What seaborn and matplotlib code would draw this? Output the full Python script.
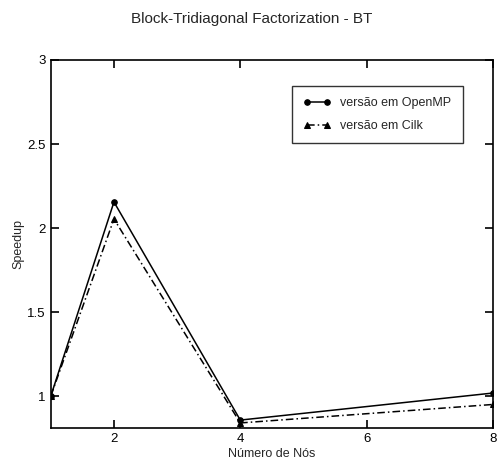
import matplotlib
matplotlib.use("Agg")
import matplotlib.pyplot as plt
import seaborn as sns
import pandas as pd

nodes = [1, 2, 4, 8]
openmp = [1.0, 2.155, 0.857, 1.018]
cilk = [1.0, 2.054, 0.84, 0.95]
series_names = ["versão em OpenMP", "versão em Cilk"]
title = "Block-Tridiagonal Factorization - BT"
xlabel = "Número de Nós"
ylabel = "Speedup"

sns.set_style("ticks")
plt.rcParams["font.family"] = ["Liberation Sans", "DejaVu Sans"]

df = pd.DataFrame({
    "nodes": nodes * 2,
    "speedup": openmp + cilk,
    "serie": [series_names[0]] * len(nodes) + [series_names[1]] * len(nodes),
})

fig = plt.figure(figsize=(5.03, 4.65), dpi=100)
ax = fig.add_axes([0.101, 0.0796, 0.879, 0.7914])

for name, ls, mk, ms in [(series_names[0], "-", "o", 4), (series_names[1], (0, (5, 2, 1, 2)), "^", 5)]:
    sub = df[df["serie"] == name]
    sns.lineplot(data=sub, x="nodes", y="speedup", ax=ax, color="black",
                 linestyle=ls, marker=mk, markersize=ms, linewidth=1.1,
                 markeredgecolor="black", label=name)

ax.set_xlim(1, 8)
ax.set_ylim(0.81, 3)
ax.set_xticks([2, 4, 6, 8])
ax.set_yticks([1, 1.5, 2, 2.5, 3])
ax.set_yticklabels(["1", "1.5", "2", "2.5", "3"])
ax.tick_params(direction="in", top=True, right=True, length=6, width=1.2, labelsize=9.5, colors="black")
for s in ax.spines.values():
    s.set_linewidth(1.2)
    s.set_color("black")
ax.set_xlabel(xlabel, fontsize=9, labelpad=2)
ax.set_ylabel(ylabel, fontsize=9, labelpad=2)
fig.suptitle(title, fontsize=11, y=0.975)

leg = ax.legend(loc="upper right", bbox_to_anchor=(0.946, 0.947), numpoints=2,
                handlelength=2.2, fontsize=9, frameon=True, fancybox=False,
                edgecolor="black", borderpad=0.9, labelspacing=0.9)
leg.get_frame().set_linewidth(1.0)

fig.savefig("out.png", dpi=100)
